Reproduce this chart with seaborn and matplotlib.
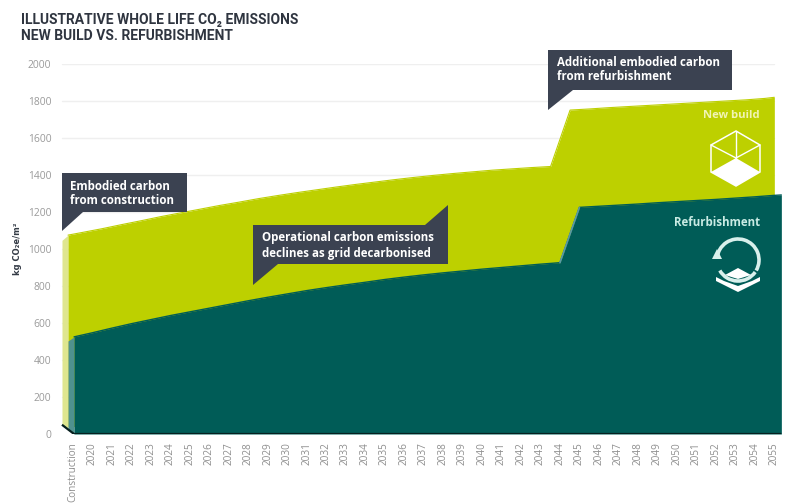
import matplotlib
matplotlib.use("Agg")
import matplotlib.pyplot as plt
import seaborn as sns
import numpy as np
from matplotlib.patches import Polygon, Arc

W, H = 791, 504
categories = ["Construction"] + [str(y) for y in range(2020, 2056)]
new_build = [1075, 1090, 1110, 1132, 1153, 1175, 1195, 1215, 1235, 1253, 1272, 1289, 1305,
             1320, 1335, 1349, 1362, 1375, 1387, 1398, 1408, 1417, 1426, 1433, 1440, 1446,
             1751, 1757, 1764, 1770, 1776, 1782, 1788, 1794, 1800, 1806, 1814]
refurbishment = [525, 547, 572, 596, 618, 640, 660, 680, 700, 720, 739, 757, 775, 791, 806,
                 820, 835, 848, 860, 871, 881, 891, 900, 909, 918, 926,
                 1225, 1231, 1237, 1243, 1250, 1256, 1262, 1268, 1275, 1282, 1290]
y_ticks = list(range(0, 2001, 200))

GREEN, TEAL, NAVY = "#bdd000", "#005c57", "#3b4251"
PALE_G, PALE_T = "#dfe68f", "#4f918e"
FONT = ["Open Sans", "DejaVu Sans"]
TITLE = ["Roboto", "DejaVu Sans"]

sns.set_theme(style="white")
plt.rcParams["font.family"] = FONT

fig = plt.figure(figsize=(W / 100, H / 100), dpi=100)
X0, X1, Y0, Y1 = 50, 785, 434, 64
ax = fig.add_axes([X0 / W, 1 - Y0 / H, (X1 - X0) / W, (Y0 - Y1) / H])
STEP = 19.49
ax.set_xlim((X0 - 72.7) / STEP, (X1 - 72.7) / STEP)
ax.set_ylim(0, 2000)

idx = np.arange(len(categories))
nb = np.array(new_build, float)
rf = np.array(refurbishment, float)

# New build: drawn shifted back (pseudo 3-D depth), with pale side face
xg = idx - 0.48
xg[0] = -0.24
xg_f = np.append(xg, idx[-1] + 0.0)
yg_f = np.append(nb, nb[-1] + 6)
# Refurbishment, with pale side face
xr = idx.astype(float)
xr[0] = 0.07
xr_f = np.append(xr, idx[-1] + 0.36)
yr_f = np.append(rf, rf[-1] + 2)

ax.fill_between([-0.55, -0.24], [nb[0] - 28, nb[0]], [50, 30], color=PALE_G, lw=0, zorder=2)
ax.fill_between(xg_f, yg_f, 40, color=GREEN, lw=0, zorder=3)
ax.fill_between([-0.24, 0.07], [rf[0] - 22, rf[0]], [25, 0], color=PALE_T, lw=0, zorder=4)
ax.fill_between(xr_f, yr_f, 0, color=TEAL, lw=0, zorder=5)
sns.lineplot(x=xr_f, y=yr_f, ax=ax, color=TEAL, lw=1, zorder=6, errorbar=None, sort=False)
sns.lineplot(x=xg_f, y=yg_f, ax=ax, color=GREEN, lw=0.8, zorder=3, errorbar=None, sort=False)
# jump highlight and floor
ax.plot(xr_f[25:27], yr_f[25:27], color="#5b9aa5", lw=1.2, zorder=6)
ax.plot([-0.55, 0.07, xr_f[-1]], [50, 0, 0], color="#06201f", lw=1.6, zorder=7, solid_capstyle="butt")

ax.set_yticks(y_ticks)
ax.set_yticklabels([str(v) for v in y_ticks], fontsize=7.4, color="#9a9a9a")
ax.set_xticks(idx)
ax.set_xticklabels(categories, rotation=90, fontsize=7.2, color="#8f8f8f")
ax.tick_params(axis="both", length=0)
ax.tick_params(axis="x", pad=6)
ax.tick_params(axis="y", pad=-1)
for lab in ax.get_yticklabels():
    lab.set_ha("right")
for v in y_ticks[1:]:
    ax.plot([-0.55, idx[-1]], [v, v], color="#efefef", lw=1, zorder=1)
sns.despine(ax=ax, left=True, bottom=True)
ax.patch.set_alpha(0)

# overlay in reference pixel coordinates for callouts and icons
ov = fig.add_axes([0, 0, 1, 1], zorder=10)
ov.set_xlim(0, W); ov.set_ylim(H, 0); ov.axis("off")

callouts = [
    [(62, 173), (187, 173), (187, 212), (83, 212), (62, 231)],
    [(253, 225), (425, 225), (448, 205), (448, 264), (278, 264), (253, 285)],
    [(548, 50), (732, 50), (732, 90), (573, 90), (548, 110)],
]
for p in callouts:
    ov.add_patch(Polygon(p, closed=True, fc=NAVY, ec="none"))

tx = dict(color="white", fontsize=8.3, fontweight="bold", va="center", family=FONT)
ov.text(70, 187, "Embodied carbon", **tx)
ov.text(70, 200, "from construction", **tx)
ov.text(262, 238, "Operational carbon emissions", **tx)
ov.text(262, 254, "declines as grid decarbonised", **tx)
ov.text(557, 62, "Additional embodied carbon", **tx)
ov.text(557, 77, "from refurbishment", **tx)
ov.text(760, 116, "New build", color="#f1f4b4", fontsize=8.1, fontweight="bold", ha="right", va="center")
ov.text(760, 222, "Refurbishment", color="#c9ebe4", fontsize=8.3, fontweight="bold", ha="right", va="center")

# Title and axis label
for ty, t in [(20, "ILLUSTRATIVE WHOLE LIFE CO₂ EMISSIONS"), (36, "NEW BUILD VS. REFURBISHMENT")]:
    ov.text(21, ty, t, fontsize=10, fontweight="bold", color="#2f3540", va="center", family=TITLE)
ov.text(17, 249, "kg CO₂e/m²", rotation=90, fontsize=6, fontweight="bold", color="#333a45",
        ha="center", va="center", family=["DejaVu Sans"])

# New build icon: cube
c = (736, 158)
hexa = [(736, 131), (760, 145), (760, 172), (736, 186), (711, 172), (711, 145)]
ov.add_patch(Polygon(hexa, closed=True, fc="none", ec="white", lw=1.1))
for e in (hexa[0], hexa[1], hexa[5]):
    ov.plot([c[0], e[0]], [c[1], e[1]], color="white", lw=1.0)
ov.add_patch(Polygon([c, hexa[2], hexa[3], hexa[4]], closed=True, fc="white", ec="none"))

# Refurbishment icon: circular arrow and floor tile
ov.add_patch(Arc((738, 260), 42, 42, theta1=-175, theta2=30, ec="#d9f0ec", lw=2.6))
ov.add_patch(Arc((738, 260), 42, 42, theta1=35, theta2=150, ec="#d9f0ec", lw=2.6))
ov.add_patch(Polygon([(717, 249), (712, 259), (722, 259)], closed=True, fc="#d9f0ec", ec="none"))
ov.add_patch(Polygon([(738, 268), (751, 275), (738, 279), (725, 275)], closed=True, fc="white", ec="none"))
ov.add_patch(Polygon([(716, 277), (724, 281), (738, 286), (752, 281), (760, 277), (760, 281), (738, 292), (716, 281)],
                     closed=True, fc="white", ec="none"))

fig.savefig("out.png", dpi=100)
